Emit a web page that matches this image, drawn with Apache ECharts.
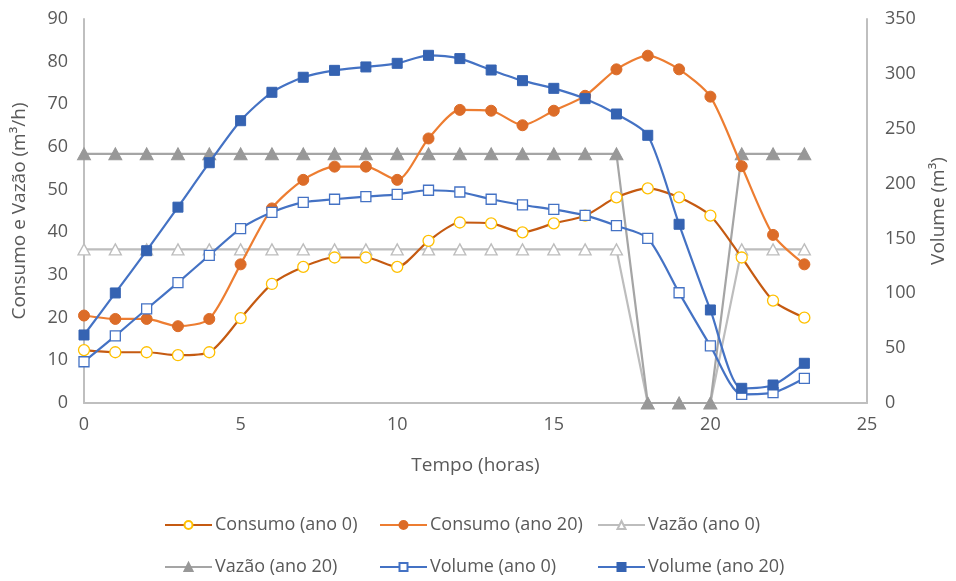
<!DOCTYPE html>
<html>
<head>
<meta charset="utf-8">
<script src="https://cdn.jsdelivr.net/npm/echarts@6/dist/echarts.min.js"></script>
<style>html,body{margin:0;padding:0;background:#fff}#c{width:956px;height:581px}</style>
</head>
<body>
<div id="c"></div>
<script>
var hours = [0,1,2,3,4,5,6,7,8,9,10,11,12,13,14,15,16,17,18,19,20,21,22,23];
var consumoAno0 = [12.4,11.9,11.9,11.2,11.9,19.9,27.9,31.9,34.1,34.1,31.9,38.0,42.3,42.1,40.0,42.1,43.9,48.2,50.3,48.2,43.9,34.1,24.0,20.0];
var consumoAno20 = [20.5,19.7,19.7,18.0,19.7,32.5,45.6,52.3,55.4,55.4,52.3,62.0,68.7,68.5,65.1,68.5,72.0,78.2,81.4,78.2,71.8,55.5,39.4,32.5];
var vazaoAno0 = [36,36,36,36,36,36,36,36,36,36,36,36,36,36,36,36,36,36,0,0,0,36,36,36];
var vazaoAno20 = [58.4,58.4,58.4,58.4,58.4,58.4,58.4,58.4,58.4,58.4,58.4,58.4,58.4,58.4,58.4,58.4,58.4,58.4,0,0,0,58.4,58.4,58.4];
var volumeAno0 = [37.6,61.1,85.7,109.7,134.6,158.9,173.8,182.9,185.7,188.1,190.2,193.9,192.3,185.7,180.5,176.5,171.0,161.6,150.1,100.5,52.0,7.9,9.4,22.5];
var volumeAno20 = [62.0,100.3,138.8,178.5,219.0,257.3,283.2,296.9,303.2,306.3,309.6,316.9,313.9,303.5,293.8,286.8,277.4,263.4,244.0,162.9,84.8,13.4,16.4,36.2];
var seriesNames = ['Consumo (ano 0)','Consumo (ano 20)','Vazão (ano 0)','Vazão (ano 20)','Volume (ano 0)','Volume (ano 20)'];

function pairs(arr){ return hours.map(function(h,i){ return [h, arr[i]]; }); }

var FONT = 'Open Sans';
var TXT = '#595959';
var AX = '#BFBFBF';

var chart = echarts.init(document.getElementById('c'), null, {renderer:'canvas'});

var legendPos = [
  [164,516],[379,516],[597,516],
  [164,558],[379,558],[597,558]
];
var legends = seriesNames.map(function(n,i){
  return {
    data:[n], left: legendPos[i][0], top: legendPos[i][1],
    itemWidth: 47, itemHeight: 10, itemGap: 4,
    textStyle:{fontFamily:FONT, fontSize:18, color:TXT, padding:[0,0,0,-2]},
    padding:0
  };
});

var option = {
  animation:false,
  backgroundColor:'#fff',
  textStyle:{fontFamily:FONT},
  legend: legends,
  grid:{left:84, right:86, top:19, bottom:178, containLabel:false},
  xAxis:{
    type:'value', min:0, max:25, interval:5,
    name:'Tempo (horas)', nameLocation:'middle', nameGap:53,
    nameTextStyle:{fontFamily:FONT, fontSize:19, color:TXT},
    axisLine:{show:true, onZero:false, lineStyle:{color:AX, width:2}},
    axisTick:{show:false},
    splitLine:{show:false},
    axisLabel:{fontFamily:FONT, fontSize:18, color:TXT, margin:13}
  },
  yAxis:[{
    type:'value', min:0, max:90, interval:10, position:'left',
    name:'Consumo e Vazão (m³/h)', nameLocation:'middle', nameGap:55, nameRotate:90,
    nameTextStyle:{fontFamily:FONT, fontSize:19, color:TXT},
    axisLine:{show:true, lineStyle:{color:AX, width:2}},
    axisTick:{show:false},
    splitLine:{show:false},
    axisLabel:{fontFamily:FONT, fontSize:18, color:TXT, margin:16}
  },{
    type:'value', min:0, max:350, interval:50, position:'right',
    name:'Volume (m³)', nameLocation:'middle', nameGap:62, nameRotate:90,
    nameTextStyle:{fontFamily:FONT, fontSize:19, color:TXT},
    axisLine:{show:true, lineStyle:{color:AX, width:2}},
    axisTick:{show:false},
    splitLine:{show:false},
    axisLabel:{fontFamily:FONT, fontSize:18, color:TXT, margin:18}
  }],
  series:[
    {name:seriesNames[0], type:'line', yAxisIndex:0, data:pairs(consumoAno0), smooth:0.25,
     symbol:'circle', symbolSize:11, showAllSymbol:true,
     lineStyle:{color:'#C55A11', width:2.2},
     itemStyle:{color:'#fff', borderColor:'#FFC000', borderWidth:1.3},
     z:3},
    {name:seriesNames[1], type:'line', yAxisIndex:0, data:pairs(consumoAno20), smooth:0.25,
     symbol:'circle', symbolSize:11,
     lineStyle:{color:'#ED7D31', width:2.2},
     itemStyle:{color:'#DC6C28', borderColor:'#DC6C28', borderWidth:1},
     z:4},
    {name:seriesNames[2], type:'line', yAxisIndex:0, data:pairs(vazaoAno0),
     symbol:'triangle', symbolSize:[12,11],
     lineStyle:{color:'#BDBDBD', width:2.2},
     itemStyle:{color:'#fff', borderColor:'#BDBDBD', borderWidth:1.3},
     z:2},
    {name:seriesNames[3], type:'line', yAxisIndex:0, data:pairs(vazaoAno20),
     symbol:'triangle', symbolSize:[13,12],
     lineStyle:{color:'#A5A5A5', width:2.2},
     itemStyle:{color:'#989898', borderColor:'#989898', borderWidth:1},
     z:2},
    {name:seriesNames[4], type:'line', yAxisIndex:1, data:pairs(volumeAno0), smooth:0.25,
     symbol:'rect', symbolSize:10,
     lineStyle:{color:'#4472C4', width:2.2},
     itemStyle:{color:'#fff', borderColor:'#4472C4', borderWidth:1.3},
     z:5},
    {name:seriesNames[5], type:'line', yAxisIndex:1, data:pairs(volumeAno20), smooth:0.25,
     symbol:'rect', symbolSize:10,
     lineStyle:{color:'#4472C4', width:2.2},
     itemStyle:{color:'#3563B2', borderColor:'#3563B2', borderWidth:1},
     z:6}
  ]
};
chart.setOption(option);
</script>
</body>
</html>
